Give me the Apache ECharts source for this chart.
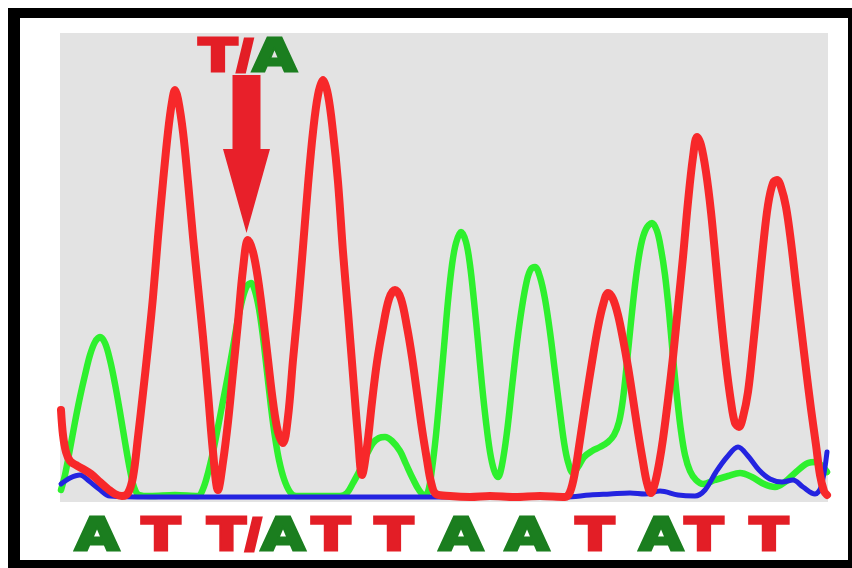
<!DOCTYPE html>
<html>
<head>
<meta charset="utf-8">
<script src="https://cdn.jsdelivr.net/npm/echarts@6/dist/echarts.min.js"></script>
<style>
  html, body { margin: 0; padding: 0; background: #fff; overflow: hidden; }
  #frame {
    position: absolute; left: 8px; top: 8px;
    width: 828px; height: 542px;
    border-style: solid; border-color: #000;
    border-width: 10px 4px 8px 12px;
    background: #fff;
  }
  #chart { width: 828px; height: 542px; }
</style>
</head>
<body>
<div id="frame"><div id="chart"></div></div>
<script>
// Sanger trace: [scan position, signal] samples for each dye channel
const traceA = [ // green
  [61,7],[65,22],[70,48],[75,75],[80,100],[85,122],[90,142],[95,155],[100,160],[105,154],[110,137],
  [115,113],[120,85],[125,55],[130,27],[134,10],[139,2],[150,1],[175,2],[198,1],[203,8],[208,24],
  [213,45],[218,70],[223,96],[228,122],[233,150],[238,178],[243,200],[247,211],[251,214],[255,206],
  [259,188],[263,160],[267,125],[271,90],[275,60],[279,37],[284,18],[290,5],[296,1],[320,1],[340,1],
  [347,4],[353,14],[360,27],[366,41],[373,54],[379,59],[385,60],[392,56],[400,46],[406,33],[413,18],
  [419,7],[424,2],[428,5],[432,28],[436,62],[440,105],[444,150],[448,196],[452,232],[456,254],[461,265],
  [466,255],[470,232],[474,196],[478,155],[482,112],[486,75],[490,45],[494,27],[498,20],[502,32],
  [507,65],[512,110],[517,154],[522,190],[527,217],[531,228],[535,230],[540,220],[545,198],[550,165],
  [555,125],[560,85],[564,55],[568,35],[573,24],[578,30],[584,40],[592,46],[600,50],[608,55],[614,62],
  [619,75],[623,98],[627,135],[631,175],[636,220],[641,252],[646,268],[652,274],[657,266],[661,248],
  [665,222],[669,185],[673,140],[677,100],[681,66],[685,42],[690,26],[696,17],[703,13],[715,17],
  [728,21],[740,24],[752,20],[764,13],[775,10],[785,15],[796,25],[808,34],[816,35],[822,31],[827,25]
];
const traceT = [ // red
  [61,87],[63,62],[66,45],[70,36],[76,32],[83,28],[91,23],[100,15],[108,8],[115,3],[122,1],[128,4],
  [133,20],[138,60],[143,104],[148,150],[153,200],[158,260],[163,315],[168,365],[172,395],[175,407],
  [178,398],[183,365],[188,315],[193,260],[198,210],[203,160],[208,104],[213,45],[218,7],[223,35],
  [228,75],[233,125],[238,175],[243,228],[248,257],[253,245],[258,218],[263,180],[268,137],[273,95],
  [278,65],[283,54],[288,80],[293,137],[298,190],[303,250],[308,312],[313,365],[318,402],[323,417],
  [328,402],[333,365],[338,315],[343,245],[348,185],[353,122],[358,60],[362,22],[367,50],[372,95],
  [377,135],[383,170],[389,198],[395,207],[401,198],[407,170],[412,140],[417,104],[422,68],[427,37],
  [431,15],[436,3],[450,1],[470,0],[490,1],[515,0],[540,1],[565,0],[570,5],[575,25],[580,57],[586,97],
  [592,135],[598,170],[603,192],[608,204],[613,198],[618,182],[623,158],[628,130],[633,98],[638,65],
  [643,35],[647,14],[651,4],[655,14],[659,33],[663,58],[668,97],[673,140],[678,190],[683,240],[688,295],
  [693,340],[697,360],[701,352],[706,325],[711,285],[716,233],[721,180],[726,133],[731,95],[735,74],
  [739,70],[743,80],[748,105],[753,150],[758,200],[763,250],[768,292],[773,314],[777,317],[781,310],
  [786,290],[791,255],[796,212],[801,170],[806,128],[811,88],[816,52],[820,22],[824,6],[827,2]
];
const traceC = [ // blue
  [61,13],[70,19],[80,22],[89,16],[99,8],[110,1],[150,0],[250,0],[350,0],[450,0],[520,0],[565,0],
  [590,2],[610,3],[630,4],[645,3],[660,6],[678,2],[695,1],[705,7],[716,25],[727,40],[738,50],[748,41],
  [759,27],[770,18],[782,15],[793,17],[803,10],[815,3],[821,10],[827,45]
];

// Base calls printed under the trace
const callBases = ['A', 'T', 'T/A', 'T', 'T', 'A', 'A', 'T', 'A', 'T', 'T'];
const callScans = [97, 161, 256, 331, 394, 461, 527, 595, 661, 704, 769];

// Heterozygous position marked with the arrow
const variantLabel = 'T/A';
const variantPeak = [248, 257];

const scanRange = [60, 828];
const signalRange = [-5, 464];

const BASE_COLOR = { A: '#1b7e1f', T: '#e31e26', C: '#1f1fd0', G: '#111111' };
const FONT_SIZE = 45;
const FONT_FAMILY = '"DejaVu Sans", "Liberation Sans", sans-serif';

function glyphStyle(color, family) {
  return {
    fill: color, stroke: color, lineWidth: 3,
    fontSize: FONT_SIZE, fontWeight: 'bold', fontFamily: family || FONT_FAMILY
  };
}

function baseText(label) {
  const parts = label.split('/');
  const rich = { sep: glyphStyle(BASE_COLOR[parts[0]], '"Liberation Sans", Arial, sans-serif') };
  Object.keys(BASE_COLOR).forEach(function (b) { rich[b] = glyphStyle(BASE_COLOR[b]); });
  const text = parts.map(function (p) { return '{' + p + '|' + p + '}'; }).join('{sep|/}');
  return {
    text: text, rich: rich, align: 'center', verticalAlign: 'middle',
    fontSize: FONT_SIZE, fontWeight: 'bold', fontFamily: FONT_FAMILY
  };
}

function traceSeries(data, color, width, z) {
  return {
    type: 'line', data: data, showSymbol: false, smooth: 0.35, z: z,
    lineStyle: { color: color, width: width, cap: 'round', join: 'round' },
    silent: true
  };
}

const chart = echarts.init(document.getElementById('chart'), null, { renderer: 'canvas' });
chart.setOption({
  animation: false,
  backgroundColor: '#fff',
  grid: { left: 40, right: 20, top: 15, bottom: 58, show: true, backgroundColor: '#e3e3e3', borderWidth: 0 },
  xAxis: { type: 'value', min: scanRange[0], max: scanRange[1], show: false },
  yAxis: { type: 'value', min: signalRange[0], max: signalRange[1], show: false },
  series: [
    traceSeries(traceA, '#2ef02e', 6.5, 2),
    traceSeries(traceC, '#2424e0', 5, 3),
    traceSeries(traceT, '#f7282a', 8, 4),
    {
      type: 'custom', z: 6, silent: true,
      data: callScans.map(function (s, i) { return [s, 0, i]; }),
      renderItem: function (params, api) {
        const pt = api.coord([api.value(0), 0]);
        const cs = params.coordSys;
        return {
          type: 'text', x: pt[0], y: cs.y + cs.height + 36, scaleX: 1.25,
          style: baseText(callBases[params.dataIndex])
        };
      }
    },
    {
      type: 'custom', z: 7, silent: true,
      data: [variantPeak],
      renderItem: function (params, api) {
        const tip = api.coord([api.value(0), api.value(1)]);
        const tx = tip[0] - 1.5, ty = tip[1] - 7;
        return {
          type: 'group',
          children: [
            {
              type: 'polygon',
              shape: { points: [
                [tx - 14, ty - 158], [tx + 14, ty - 158], [tx + 14, ty - 84], [tx + 23.5, ty - 84],
                [tx, ty], [tx - 23.5, ty - 84], [tx - 14, ty - 84]
              ] },
              style: { fill: '#e8202a' }
            },
            {
              type: 'text', x: tx + 1, y: ty - 174, scaleX: 1.25,
              style: baseText(variantLabel)
            }
          ]
        };
      }
    }
  ]
});
</script>
</body>
</html>
